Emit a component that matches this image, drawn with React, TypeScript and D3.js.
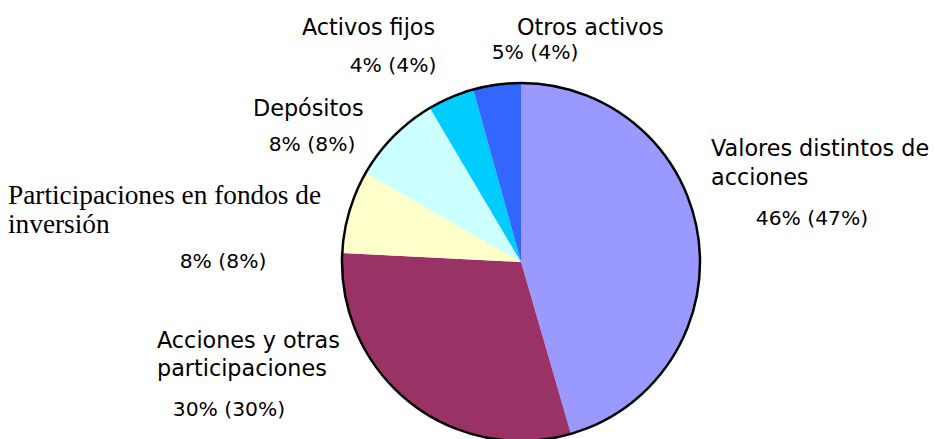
import React from "react";
import * as d3 from "d3";

const categories = [
  "Valores distintos de acciones",
  "Acciones y otras participaciones",
  "Participaciones en fondos de inversión",
  "Depósitos",
  "Activos fijos",
  "Otros activos",
];
const values = [45.5, 30.3, 7.5, 8.2, 4.2, 4.3];
const pctLabels = ["46% (47%)", "30% (30%)", "8% (8%)", "8% (8%)", "4% (4%)", "5% (4%)"];
const nameLines = [
  ["Valores distintos de", "acciones"],
  ["Acciones y otras", "participaciones"],
  ["Participaciones en fondos de", "inversión"],
  ["Depósitos"],
  ["Activos fijos"],
  ["Otros activos"],
];
const colors = ["#9999FF", "#993366", "#FFFFCC", "#CCFFFF", "#00CCFF", "#3366FF"];

// label layout (text placement only)
const labelLayout = [
  { x: 711, ys: [156, 185], px: 812, py: 225, serif: false },
  { x: 157, ys: [348, 376], px: 229, py: 416, serif: false },
  { x: 8, ys: [204, 233], px: 223, py: 268, serif: true },
  { x: 253, ys: [116], px: 312, py: 151, serif: false },
  { x: 302, ys: [35], px: 393, py: 72, serif: false },
  { x: 517, ys: [35], px: 535, py: 59, serif: false },
];

const W = 935;
const H = 439;
const cx = 521;
const cy = 262;
const R = 179;

export default function App() {
  const pie = d3.pie<number>().sort(null).value((d) => d).startAngle(0).endAngle(2 * Math.PI);
  const arcs = pie(values);
  const arcGen = d3.arc<d3.PieArcDatum<number>>().innerRadius(0).outerRadius(R);
  const sans = "'DejaVu Sans', sans-serif";
  const serif = "'Liberation Serif', 'Times New Roman', serif";
  return (
    <div style={{ position: "absolute", left: 0, top: 0, width: W, height: H, background: "#fff" }}>
      <svg width={W} height={H} viewBox={`0 0 ${W} ${H}`}>
        <rect width={W} height={H} fill="#fff" />
        <g transform={`translate(${cx},${cy})`}>
          {arcs.map((a, i) => (
            <path key={i} d={arcGen(a) || ""} fill={colors[i]} />
          ))}
          <circle r={R} fill="none" stroke="#000" strokeWidth={2.5} />
        </g>
        {categories.map((c, i) => {
          const L = labelLayout[i];
          return (
            <g key={c}>
              {nameLines[i].map((line, j) => (
                <text
                  key={j}
                  x={L.x}
                  y={L.ys[j]}
                  fontFamily={L.serif ? serif : sans}
                  fontSize={L.serif ? 27.3 : 22.3}
                  fill="#000"
                >
                  {line}
                </text>
              ))}
              <text x={L.px} y={L.py} textAnchor="middle" fontFamily={sans} fontSize={20.3} fill="#000">
                {pctLabels[i]}
              </text>
            </g>
          );
        })}
      </svg>
    </div>
  );
}
